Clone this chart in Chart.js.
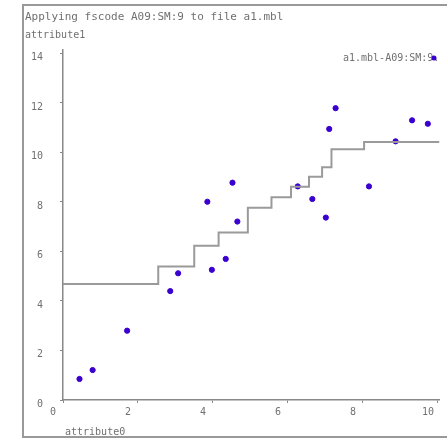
<!DOCTYPE html>
<html>
<head>
<meta charset="utf-8">
<script src="https://cdn.jsdelivr.net/npm/chart.js@4"></script>
<style>
  html, body { margin: 0; padding: 0; background: #fff; }
  #wrap { width: 447px; height: 438px; }
  canvas { filter: blur(0.4px); }
</style>
</head>
<body>
<div id="wrap"><canvas id="c" width="447" height="438"></canvas></div>
<script>
// scatter points (attribute0, attribute1)
const pointX = [0.44, 0.79, 1.71, 2.86, 3.07, 3.85, 3.97, 4.34, 4.52, 4.65, 6.26, 6.65, 7.01, 7.10, 7.27, 8.16, 8.87, 9.31, 9.73];
const pointY = [0.85, 1.21, 2.80, 4.40, 5.12, 8.01, 5.26, 5.70, 8.78, 7.21, 8.63, 8.12, 7.37, 10.95, 11.79, 8.63, 10.45, 11.30, 11.16];

// step function fitted by the formula
const stepX = [0, 2.54, 3.50, 4.15, 4.93, 5.56, 6.08, 6.56, 6.91, 7.16, 8.03, 10.04];
const stepY = [4.69, 5.39, 6.23, 6.77, 7.77, 8.19, 8.62, 9.02, 9.40, 10.13, 10.42, 10.42];

const xTicks = [0, 2, 4, 6, 8, 10];
const yTicks = [0, 2, 4, 6, 8, 10, 12, 14];

const titleText = "Applying fscode A09:SM:9 to file a1.mbl";
const yTitle = "attribute1";
const xTitle = "attribute0";
const legendText = "a1.mbl-A09:SM:9.";

const mono = "'DejaVu Sans Mono', 'Liberation Mono', monospace";
const textGrey = "#707070";

const frame = {
  id: "frame",
  beforeDraw(chart) {
    const ctx = chart.ctx;
    ctx.save();
    ctx.fillStyle = "#fff";
    ctx.fillRect(0, 0, chart.width, chart.height);
    ctx.strokeStyle = "#999";
    ctx.lineWidth = 2;
    ctx.strokeRect(23, 5, 440, 432);
    ctx.restore();
  },
  afterDraw(chart) {
    const ctx = chart.ctx;
    ctx.save();
    ctx.fillStyle = textGrey;
    ctx.font = "11px " + mono;
    ctx.textBaseline = "middle";
    ctx.textAlign = "left";
    ctx.fillText(titleText, 25, 17);
    ctx.font = "10px " + mono;
    ctx.fillText(yTitle, 25, 35);
    ctx.fillText(xTitle, 65, 432);
    ctx.fillText(legendText, 343, 58);
    ctx.fillStyle = "#3a00d0";
    ctx.beginPath();
    ctx.arc(434, 58, 2.5, 0, Math.PI * 2);
    ctx.fill();
    ctx.restore();
  }
};

new Chart(document.getElementById("c"), {
  type: "scatter",
  data: {
    datasets: [
      {
        label: "fit",
        type: "line",
        data: stepX.map((x, i) => ({ x: x, y: stepY[i] })),
        stepped: "before",
        borderColor: "#9a9a9a",
        borderWidth: 2,
        pointRadius: 0,
        fill: false
      },
      {
        label: "a1.mbl",
        data: pointX.map((x, i) => ({ x: x, y: pointY[i] })),
        backgroundColor: "#3a00d0",
        borderColor: "#3a00d0",
        pointRadius: 2.6
      }
    ]
  },
  options: {
    responsive: false,
    animation: false,
    layout: { padding: { top: 50, right: 0, left: 0, bottom: 0 } },
    plugins: { legend: { display: false }, tooltip: { enabled: false } },
    scales: {
      x: {
        type: "linear",
        min: 0,
        max: 10.04,
        afterBuildTicks(s) { s.ticks = xTicks.map(v => ({ value: v })); },
        afterFit(s) { s.height = 38; },
        border: { color: "#888", width: 1.5 },
        grid: { drawOnChartArea: false, tickLength: 3, color: "#888" },
        ticks: { color: textGrey, font: { family: mono, size: 10 }, padding: 3, labelOffset: -10, maxRotation: 0 }
      },
      y: {
        type: "linear",
        min: 0,
        max: 14.14,
        afterBuildTicks(s) { s.ticks = yTicks.map(v => ({ value: v })); },
        afterFit(s) { s.width = 63; },
        border: { color: "#888", width: 1.5 },
        grid: { drawOnChartArea: false, tickLength: 3, color: "#888" },
        ticks: { color: textGrey, font: { family: mono, size: 10 }, padding: 17, labelOffset: 4 }
      }
    }
  },
  plugins: [frame]
});
</script>
</body>
</html>
